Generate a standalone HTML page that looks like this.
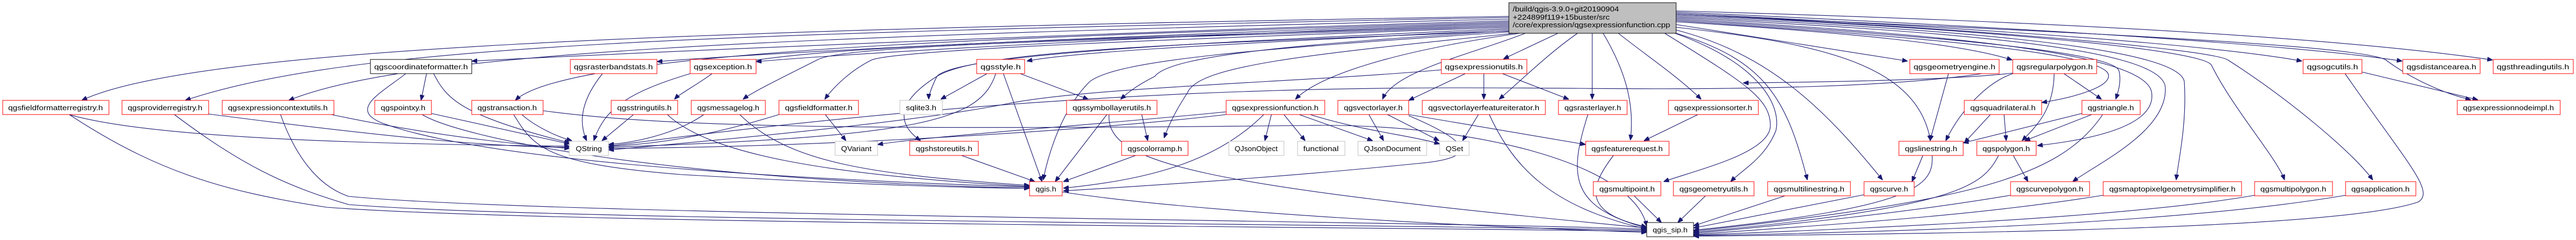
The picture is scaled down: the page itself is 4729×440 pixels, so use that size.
<!DOCTYPE html>
<html><head><meta charset="utf-8"><style>
html,body{margin:0;padding:0;background:#fff;width:4729px;height:440px;overflow:hidden}
svg{display:block}
text{font-family:"Liberation Sans",sans-serif;font-size:13px;fill:#000}
.e{fill:none;stroke:#191970;stroke-width:1.1}
.r{fill:#fff;stroke:#ff0000;stroke-width:1}
.g{fill:#fff;stroke:#bfbfbf;stroke-width:1}
.b{fill:#fff;stroke:#000;stroke-width:1}
</style></head><body>
<svg width="4729" height="440" viewBox="0 0 4729 440" xmlns="http://www.w3.org/2000/svg">
<defs><marker id="a" viewBox="0 0 10 8" refX="10" refY="4" markerWidth="10" markerHeight="8" markerUnits="userSpaceOnUse" orient="auto"><path d="M0,0 L10,4 L0,8z" fill="#191970" stroke="#191970"/></marker></defs>
<g class="e" marker-end="url(#a)">
<!-- from top node -->
<path d="M2770,30 C1200,55 350,90 150,184"/>
<path d="M2770,32 C1300,62 650,80 340,184"/>
<path d="M2770,35 C1400,68 750,95 530,184"/>
<path d="M2770,38 C2000,60 1200,95 866,112"/>
<path d="M2770,40 C2000,65 1050,85 946,184"/>
<path d="M2770,42 C2200,60 1500,90 1206,113"/>
<path d="M2770,44 C2200,62 1600,95 1388,113"/>
<path d="M2770,46 C2100,70 1450,80 1320,125 C1290,150 1250,170 1238,182"/>
<path d="M2770,48 C2100,72 1550,80 1500,110 C1420,150 1380,170 1364,182"/>
<path d="M2770,50 C2200,70 1650,90 1600,110 C1560,130 1530,160 1514,182"/>
<path d="M2770,52 C2300,75 1760,95 1720,140 C1710,160 1705,175 1705,182"/>
<path d="M2770,54 C2400,75 2000,90 1885,112"/>
<path d="M2775,56 C2400,80 2150,100 2120,140 C2080,160 2065,175 2057,182"/>
<path d="M2780,58 C2300,90 2050,110 2000,150 C1950,200 1925,280 1915,330"/>
<path d="M2790,60 C2400,100 2200,120 2180,170 C2160,200 2145,230 2137,253"/>
<path d="M2770,57 C2200,80 1800,90 1720,140 C1640,190 1650,230 1690,258"/>
<path d="M2790,61 C2550,95 2420,140 2378,182"/>
<path d="M2800,61 C2700,100 2560,130 2538,182"/>
<path d="M2860,61 L2760,108"/>
<path d="M2896,61 C2840,100 2790,150 2752,182"/>
<path d="M2923,61 L2923,182"/>
<path d="M2943,61 C2990,140 3000,200 2993,257"/>
<path d="M2971,61 C3020,100 3080,140 3123,182"/>
<path d="M3056,61 C3200,150 3250,180 3250,230 C3250,280 3120,310 3054,333"/>
<path d="M3075,61 C3240,120 3270,200 3260,240 C3240,290 3200,310 3177,333"/>
<path d="M3077,61 C3240,110 3280,180 3318,330"/>
<path d="M3077,55 C3250,100 3350,200 3456,330"/>
<path d="M3077,50 C3350,80 3520,120 3544,258"/>
<path d="M3077,45 L3502,112"/>
<path d="M3077,40 C3400,60 3600,80 3694,110"/>
<path d="M3077,38 C3400,60 3850,90 3870,135 C3880,160 3800,180 3748,188"/>
<path d="M3077,36 C3450,60 3880,90 3890,130 C3895,150 3888,170 3884,182"/>
<path d="M3077,34 C3500,60 3940,90 3950,170 C3960,240 3800,260 3740,267"/>
<path d="M3077,32 C3500,55 3970,80 3975,160 C3980,240 3850,300 3805,333"/>
<path d="M3077,30 C3500,50 4000,80 4010,150 C4015,230 3998,300 3995,330"/>
<path d="M3077,28 C3600,50 4050,90 4060,120 C4100,200 4180,290 4194,330"/>
<path d="M3077,26 C3600,50 4060,90 4090,110 C4200,180 4320,280 4356,330"/>
<path d="M3077,24 C3600,50 4050,80 4226,112"/>
<path d="M3077,22 C3700,50 4200,80 4410,112"/>
<path d="M3077,20 C3800,40 4300,70 4576,110"/>
<path d="M3077,26 C3700,55 4330,80 4380,110 C4420,140 4480,170 4536,183"/>
<!-- secondary -->
<path d="M783,135 L773,184"/>
<path d="M796,135 C820,180 840,210 1046,262"/>
<path d="M745,135 C700,170 640,200 700,225 C900,300 1500,330 1890,343"/>
<path d="M792,208 L1046,264"/>
<path d="M775,210 C840,250 1200,330 1890,345"/>
<path d="M127,210 C300,260 800,265 1046,268"/>
<path d="M383,209 C700,250 900,270 1046,270"/>
<path d="M608,210 C800,250 950,265 1046,272"/>
<path d="M127,210 C280,310 400,350 600,380 C1000,410 2400,415 3023,424"/>
<path d="M320,210 C440,300 520,340 640,375 C1000,405 2500,410 3023,422"/>
<path d="M515,210 C540,280 580,340 640,360 C1000,395 2600,405 3023,420"/>
<path d="M1106,135 C1070,180 1060,220 1077,258"/>
<path d="M1267,135 C1150,170 1110,200 1090,258"/>
<path d="M958,210 C980,230 1020,250 1050,258"/>
<path d="M943,210 C980,270 1000,300 1250,320 C1600,340 1800,345 1890,345"/>
<path d="M997,203 C1200,230 1500,240 2400,230 C2700,225 3000,300 3023,415"/>
<path d="M1163,210 L1105,258"/>
<path d="M1225,210 C1300,280 1500,320 1890,342"/>
<path d="M1292,210 C1250,240 1180,260 1117,265"/>
<path d="M1358,210 C1450,300 1600,320 1890,340"/>
<path d="M1430,210 C1300,250 1200,265 1117,268"/>
<path d="M1515,210 L1553,258"/>
<path d="M1812,135 L1727,182"/>
<path d="M1828,135 C1800,220 1700,250 1117,270"/>
<path d="M1842,135 L1913,333"/>
<path d="M1873,135 L1998,182"/>
<path d="M2096,210 L2107,258"/>
<path d="M2032,210 L1937,333"/>
<path d="M2036,210 C2030,300 2200,340 3023,418"/>
<path d="M1765,285 L1900,333"/>
<path d="M2085,285 L1952,333"/>
<path d="M2251,205 C2000,230 1700,250 1611,265"/>
<path d="M2334,210 L2322,258"/>
<path d="M2357,210 L2396,258"/>
<path d="M2385,210 L2520,258"/>
<path d="M2320,210 C2230,300 2100,330 1952,345"/>
<path d="M2251,210 C2000,240 1500,270 1117,272"/>
<path d="M2405,210 C2500,240 2600,250 2643,264"/>
<path d="M2646,128 C2400,150 2000,160 1850,190 C1700,220 1400,250 1117,275"/>
<path d="M2690,135 L2586,184"/>
<path d="M2724,135 L2724,182"/>
<path d="M2758,135 L2880,182"/>
<path d="M2547,210 L2642,258"/>
<path d="M2586,210 L2911,265"/>
<path d="M2586,212 C2700,260 2720,290 2600,300 C2400,320 2200,335 1952,350"/>
<path d="M2513,210 L2540,258"/>
<path d="M2714,210 L2685,258"/>
<path d="M2734,210 C2780,310 2850,380 3023,420"/>
<path d="M2915,210 C2880,320 2880,380 3023,418"/>
<path d="M3117,210 L3018,258"/>
<path d="M2962,285 C2920,340 2900,390 3023,416"/>
<path d="M3000,359 L3050,408"/>
<path d="M3131,359 L3080,408"/>
<path d="M3277,359 L3109,414"/>
<path d="M3422,357 L3109,418"/>
<path d="M3530,285 L3510,333"/>
<path d="M3547,285 C3550,340 3520,380 3109,422"/>
<path d="M3577,135 L3543,258"/>
<path d="M3670,130 C3500,160 3200,165 2900,162 C2600,160 2000,150 1117,268"/>
<path d="M3695,135 C3650,150 3600,200 3572,258"/>
<path d="M3771,135 C3770,200 3740,230 3712,258"/>
<path d="M3789,135 L3858,182"/>
<path d="M3695,134 C3600,145 3400,150 3200,152"/>
<path d="M3654,210 L3606,262"/>
<path d="M3679,210 L3683,258"/>
<path d="M3822,208 L3604,262"/>
<path d="M3840,210 L3717,258"/>
<path d="M3860,210 C3780,330 3600,370 3109,424"/>
<path d="M3696,285 L3723,333"/>
<path d="M3669,285 C3640,340 3600,380 3109,426"/>
<path d="M3691,358 C3500,390 3300,410 3109,428"/>
<path d="M3861,358 C3600,400 3300,415 3109,430"/>
<path d="M4139,358 C3900,400 3400,420 3109,431"/>
<path d="M4306,358 C4000,410 3500,425 3109,432"/>
<path d="M1950,352 C2200,390 2700,415 3023,426"/>
<path d="M4336,132 L4549,183"/>
<path d="M4305,135 C4420,300 4470,350 4440,370 C4300,420 3600,428 3109,433"/>
</g>
<!-- nodes -->
<rect x="2770" y="5" width="307" height="56" fill="#bfbfbf" stroke="#000"/>
<text x="2777" y="21" textLength="195" lengthAdjust="spacingAndGlyphs">/build/qgis-3.9.0+git20190904</text>
<text x="2777" y="36" textLength="178" lengthAdjust="spacingAndGlyphs">+224899f119+15buster/src</text>
<text x="2777" y="50" textLength="289" lengthAdjust="spacingAndGlyphs">/core/expression/qgsexpressionfunction.cpp</text>
<g text-anchor="middle">
<rect class="b" x="680" y="109" width="186" height="26"/><text x="773" y="127" textLength="172" lengthAdjust="spacingAndGlyphs">qgscoordinateformatter.h</text>
<rect class="r" x="1047" y="109" width="159" height="26"/><text x="1126" y="127" textLength="145" lengthAdjust="spacingAndGlyphs">qgsrasterbandstats.h</text>
<rect class="r" x="1267" y="109" width="121" height="26"/><text x="1327" y="127" textLength="107" lengthAdjust="spacingAndGlyphs">qgsexception.h</text>
<rect class="r" x="1793" y="109" width="88" height="26"/><text x="1837" y="127" textLength="74" lengthAdjust="spacingAndGlyphs">qgsstyle.h</text>
<rect class="r" x="2646" y="109" width="157" height="26"/><text x="2724" y="127" textLength="143" lengthAdjust="spacingAndGlyphs">qgsexpressionutils.h</text>
<rect class="r" x="3506" y="109" width="164" height="26"/><text x="3588" y="127" textLength="150" lengthAdjust="spacingAndGlyphs">qgsgeometryengine.h</text>
<rect class="r" x="3695" y="109" width="154" height="26"/><text x="3772" y="127" textLength="140" lengthAdjust="spacingAndGlyphs">qgsregularpolygon.h</text>
<rect class="r" x="4228" y="109" width="108" height="26"/><text x="4282" y="127" textLength="94" lengthAdjust="spacingAndGlyphs">qgsogcutils.h</text>
<rect class="r" x="4411" y="109" width="142" height="26"/><text x="4482" y="127" textLength="128" lengthAdjust="spacingAndGlyphs">qgsdistancearea.h</text>
<rect class="r" x="4577" y="109" width="147" height="26"/><text x="4650" y="127" textLength="133" lengthAdjust="spacingAndGlyphs">qgsthreadingutils.h</text>

<rect class="r" x="5" y="184" width="195" height="26"/><text x="102" y="202" textLength="174" lengthAdjust="spacingAndGlyphs">qgsfieldformatterregistry.h</text>
<rect class="r" x="224" y="184" width="159" height="26"/><text x="303" y="202" textLength="137" lengthAdjust="spacingAndGlyphs">qgsproviderregistry.h</text>
<rect class="r" x="408" y="184" width="205" height="26"/><text x="510" y="202" textLength="183" lengthAdjust="spacingAndGlyphs">qgsexpressioncontextutils.h</text>
<rect class="r" x="688" y="184" width="104" height="26"/><text x="740" y="202" textLength="82" lengthAdjust="spacingAndGlyphs">qgspointxy.h</text>
<rect class="r" x="866" y="184" width="131" height="26"/><text x="931" y="202" textLength="109" lengthAdjust="spacingAndGlyphs">qgstransaction.h</text>
<rect class="r" x="1122" y="184" width="122" height="26"/><text x="1183" y="202" textLength="100" lengthAdjust="spacingAndGlyphs">qgsstringutils.h</text>
<rect class="r" x="1269" y="184" width="136" height="26"/><text x="1337" y="202" textLength="114" lengthAdjust="spacingAndGlyphs">qgsmessagelog.h</text>
<rect class="r" x="1430" y="184" width="146" height="26"/><text x="1503" y="202" textLength="124" lengthAdjust="spacingAndGlyphs">qgsfieldformatter.h</text>
<rect class="g" x="1652" y="184" width="78" height="26"/><text x="1691" y="202" textLength="56" lengthAdjust="spacingAndGlyphs">sqlite3.h</text>
<rect class="r" x="1958" y="184" width="166" height="26"/><text x="2041" y="202" textLength="144" lengthAdjust="spacingAndGlyphs">qgssymbollayerutils.h</text>
<rect class="r" x="2251" y="184" width="181" height="26"/><text x="2341" y="202" textLength="159" lengthAdjust="spacingAndGlyphs">qgsexpressionfunction.h</text>
<rect class="r" x="2456" y="184" width="130" height="26"/><text x="2521" y="202" textLength="108" lengthAdjust="spacingAndGlyphs">qgsvectorlayer.h</text>
<rect class="r" x="2611" y="184" width="226" height="26"/><text x="2724" y="202" textLength="204" lengthAdjust="spacingAndGlyphs">qgsvectorlayerfeatureiterator.h</text>
<rect class="r" x="2861" y="184" width="126" height="26"/><text x="2924" y="202" textLength="104" lengthAdjust="spacingAndGlyphs">qgsrasterlayer.h</text>
<rect class="r" x="3063" y="184" width="165" height="26"/><text x="3145" y="202" textLength="143" lengthAdjust="spacingAndGlyphs">qgsexpressionsorter.h</text>
<rect class="r" x="3606" y="184" width="142" height="26"/><text x="3677" y="202" textLength="120" lengthAdjust="spacingAndGlyphs">qgsquadrilateral.h</text>
<rect class="r" x="3822" y="184" width="107" height="26"/><text x="3875" y="202" textLength="85" lengthAdjust="spacingAndGlyphs">qgstriangle.h</text>
<rect class="r" x="4511" y="184" width="189" height="26"/><text x="4605" y="202" textLength="167" lengthAdjust="spacingAndGlyphs">qgsexpressionnodeimpl.h</text>

<rect class="g" x="1045" y="259" width="72" height="26"/><text x="1081" y="277" textLength="48" lengthAdjust="spacingAndGlyphs">QString</text>
<rect class="g" x="1533" y="259" width="78" height="26"/><text x="1572" y="277" textLength="56" lengthAdjust="spacingAndGlyphs">QVariant</text>
<rect class="r" x="1670" y="259" width="126" height="26"/><text x="1733" y="277" textLength="104" lengthAdjust="spacingAndGlyphs">qgshstoreutils.h</text>
<rect class="r" x="2059" y="259" width="122" height="26"/><text x="2120" y="277" textLength="100" lengthAdjust="spacingAndGlyphs">qgscolorramp.h</text>
<rect class="g" x="2256" y="259" width="101" height="26"/><text x="2306" y="277" textLength="79" lengthAdjust="spacingAndGlyphs">QJsonObject</text>
<rect class="g" x="2382" y="259" width="87" height="26"/><text x="2425" y="277" textLength="65" lengthAdjust="spacingAndGlyphs">functional</text>
<rect class="g" x="2493" y="259" width="126" height="26"/><text x="2556" y="277" textLength="104" lengthAdjust="spacingAndGlyphs">QJsonDocument</text>
<rect class="g" x="2643" y="259" width="54" height="26"/><text x="2670" y="277" textLength="32" lengthAdjust="spacingAndGlyphs">QSet</text>
<rect class="r" x="2911" y="259" width="153" height="26"/><text x="2987" y="277" textLength="131" lengthAdjust="spacingAndGlyphs">qgsfeaturerequest.h</text>
<rect class="r" x="3486" y="259" width="118" height="26"/><text x="3545" y="277" textLength="96" lengthAdjust="spacingAndGlyphs">qgslinestring.h</text>
<rect class="r" x="3629" y="259" width="109" height="26"/><text x="3683" y="277" textLength="87" lengthAdjust="spacingAndGlyphs">qgspolygon.h</text>

<rect class="r" x="1890" y="333" width="60" height="26"/><text x="1920" y="351" textLength="38" lengthAdjust="spacingAndGlyphs">qgis.h</text>
<rect class="r" x="2925" y="333" width="124" height="26"/><text x="2987" y="351" textLength="102" lengthAdjust="spacingAndGlyphs">qgsmultipoint.h</text>
<rect class="r" x="3072" y="333" width="148" height="26"/><text x="3146" y="351" textLength="126" lengthAdjust="spacingAndGlyphs">qgsgeometryutils.h</text>
<rect class="r" x="3245" y="333" width="152" height="26"/><text x="3321" y="351" textLength="130" lengthAdjust="spacingAndGlyphs">qgsmultilinestring.h</text>
<rect class="r" x="3422" y="333" width="92" height="26"/><text x="3468" y="351" textLength="70" lengthAdjust="spacingAndGlyphs">qgscurve.h</text>
<rect class="r" x="3691" y="333" width="145" height="26"/><text x="3763" y="351" textLength="123" lengthAdjust="spacingAndGlyphs">qgscurvepolygon.h</text>
<rect class="r" x="3861" y="333" width="254" height="26"/><text x="3988" y="351" textLength="232" lengthAdjust="spacingAndGlyphs">qgsmaptopixelgeometrysimplifier.h</text>
<rect class="r" x="4139" y="333" width="143" height="26"/><text x="4210" y="351" textLength="121" lengthAdjust="spacingAndGlyphs">qgsmultipolygon.h</text>
<rect class="r" x="4306" y="333" width="129" height="26"/><text x="4370" y="351" textLength="107" lengthAdjust="spacingAndGlyphs">qgsapplication.h</text>

<rect class="b" x="3023" y="408" width="86" height="26"/><text x="3066" y="426" textLength="64" lengthAdjust="spacingAndGlyphs">qgis_sip.h</text>
</g>
</svg>
</body></html>
